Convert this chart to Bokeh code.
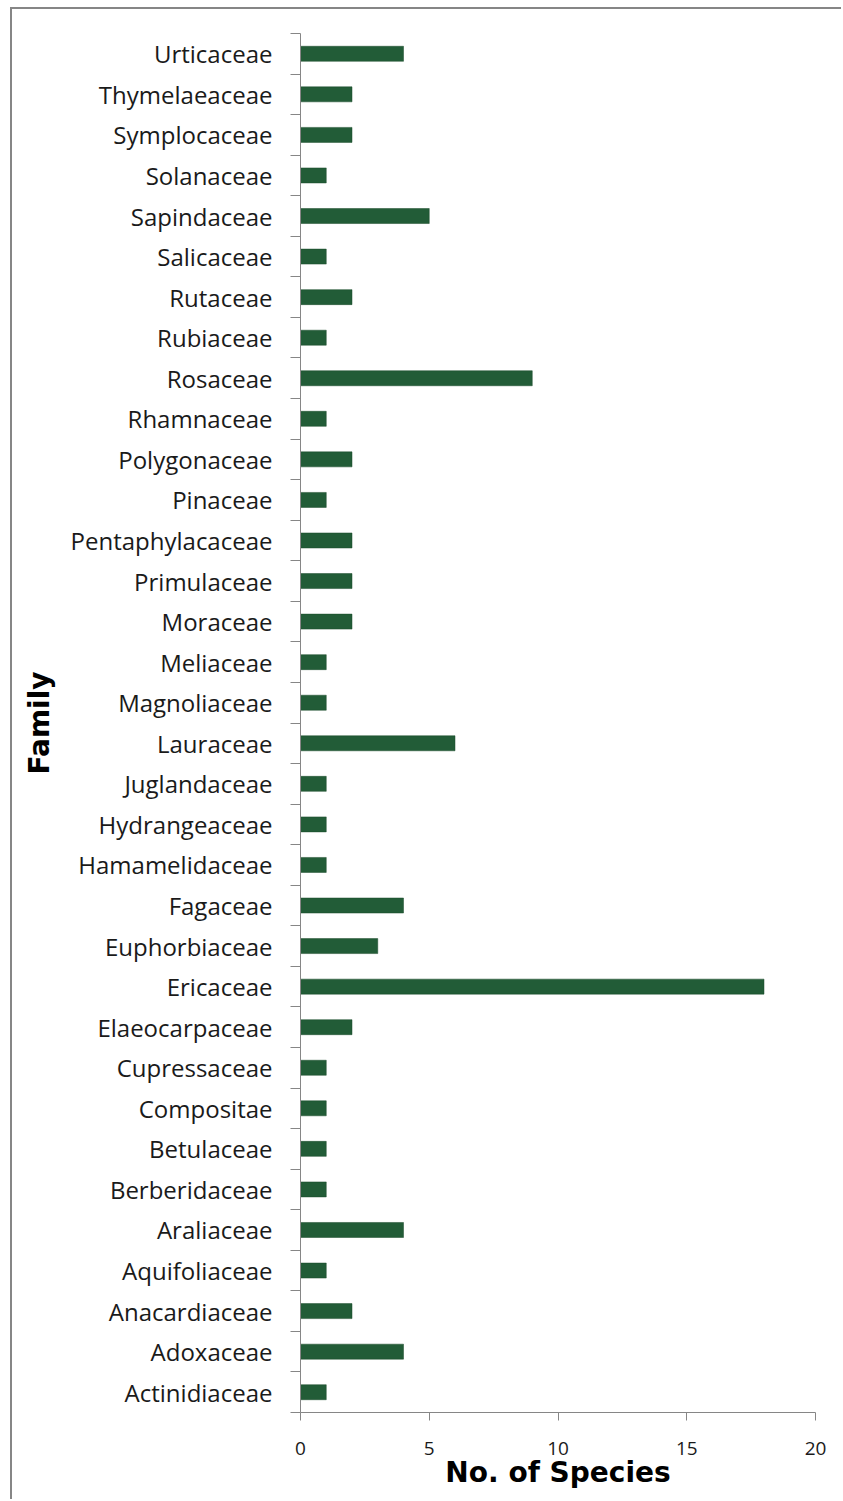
from bokeh.plotting import figure
from bokeh.models import ColumnDataSource, FixedTicker, Range1d
from bokeh.embed import file_html
from bokeh.resources import INLINE

families = ["Actinidiaceae", "Adoxaceae", "Anacardiaceae", "Aquifoliaceae", "Araliaceae",
            "Berberidaceae", "Betulaceae", "Compositae", "Cupressaceae", "Elaeocarpaceae",
            "Ericaceae", "Euphorbiaceae", "Fagaceae", "Hamamelidaceae", "Hydrangeaceae",
            "Juglandaceae", "Lauraceae", "Magnoliaceae", "Meliaceae", "Moraceae",
            "Primulaceae", "Pentaphylacaceae", "Pinaceae", "Polygonaceae", "Rhamnaceae",
            "Rosaceae", "Rubiaceae", "Rutaceae", "Salicaceae", "Sapindaceae",
            "Solanaceae", "Symplocaceae", "Thymelaeaceae", "Urticaceae"]
species = [1, 4, 2, 1, 4,
           1, 1, 1, 1, 2,
           18, 3, 4, 1, 1,
           1, 6, 1, 1, 2,
           2, 2, 1, 2, 1,
           9, 1, 2, 1, 5,
           1, 2, 2, 4]
x_ticks = [0, 5, 10, 15, 20]

n = len(families)
ypos = [i + 0.5 for i in range(n)]
src = ColumnDataSource(dict(y=ypos, count=species, fam=families))

p = figure(width=831, height=1492, output_backend="svg", toolbar_location=None,
           x_range=Range1d(0, 20), y_range=Range1d(0, n),
           min_border_left=288, min_border_right=28, min_border_top=24, min_border_bottom=89)
p.styles = {"border-left": "2px solid #868686", "border-top": "2px solid #868686",
            "margin-left": "10px", "margin-top": "7px"}

p.hbar(y="y", right="count", left=0, height=0.37, source=src,
       fill_color="#225c37", line_color="#1a4a2b", line_width=0.5)

p.xgrid.visible = False
p.ygrid.visible = False
p.outline_line_color = None

yax = p.yaxis[0]
yax.ticker = FixedTicker(ticks=ypos, minor_ticks=list(range(n + 1)))
yax.major_label_overrides = {y: f for y, f in zip(ypos, families)}
yax.major_tick_line_color = None
yax.major_tick_out = 0
yax.major_tick_in = 0
yax.minor_tick_out = 10
yax.minor_tick_in = 0
yax.minor_tick_line_color = "#868686"
yax.axis_line_color = "#868686"
yax.major_label_standoff = 18
yax.major_label_text_font = "Open Sans"
yax.major_label_text_font_size = "24px"
yax.major_label_text_color = "#1a1a1a"
yax.axis_label = "Family"
yax.axis_label_text_font = "DejaVu Sans"
yax.axis_label_text_font_style = "bold"
yax.axis_label_text_font_size = "28px"
yax.axis_label_text_color = "#000000"
yax.axis_label_standoff = 12

xax = p.xaxis[0]
xax.ticker = FixedTicker(ticks=x_ticks)
xax.minor_tick_line_color = None
xax.major_tick_out = 8
xax.major_tick_in = 0
xax.major_tick_line_color = "#868686"
xax.axis_line_color = "#868686"
xax.major_label_text_font = "Open Sans"
xax.major_label_text_font_size = "19px"
xax.major_label_text_color = "#1a1a1a"
xax.major_label_standoff = 21
xax.axis_label = "No. of Species"
xax.axis_label_text_font = "DejaVu Sans"
xax.axis_label_text_font_style = "bold"
xax.axis_label_text_font_size = "28px"
xax.axis_label_text_color = "#000000"
xax.axis_label_standoff = -2

open("out.html", "w").write(file_html(p, INLINE))
